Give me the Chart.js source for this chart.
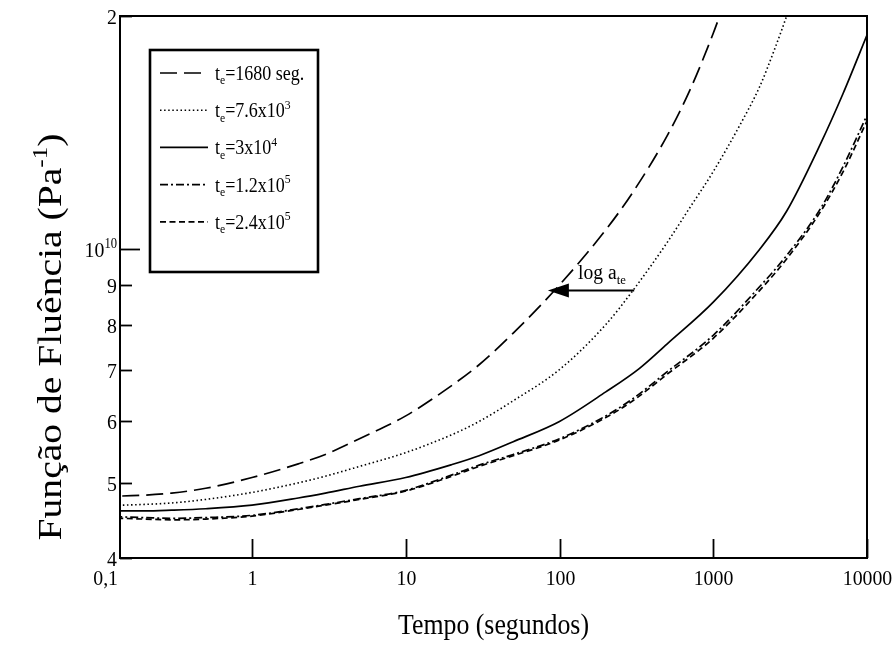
<!DOCTYPE html>
<html><head><meta charset="utf-8">
<script src="https://cdn.jsdelivr.net/npm/chart.js@4.4.0/dist/chart.umd.min.js"></script>
<style>html,body{margin:0;padding:0;background:#fff;}</style>
</head><body>
<canvas id="c" width="893" height="655"></canvas>
<script>
// ---- data (time in s, compliance in Pa^-1) ----
const timeA = [0.1, 0.2, 0.3, 0.5, 1, 2, 3, 5, 10, 20, 30, 50, 100, 200, 300, 500, 700, 1000, 1200];
const compA = [4.80e9, 4.82e9, 4.85e9, 4.92e9, 5.08e9, 5.29e9, 5.44e9, 5.70e9, 6.10e9, 6.68e9, 7.10e9, 7.80e9, 9.00e9, 10.6e9, 11.85e9, 14.0e9, 16.0e9, 19.0e9, 21.0e9];

const timeB = [0.1, 0.2, 0.3, 0.5, 1, 2, 3, 5, 10, 20, 30, 50, 100, 200, 300, 500, 700, 1000, 1500, 2000, 2500, 3000, 3500];
const compB = [4.67e9, 4.69e9, 4.71e9, 4.76e9, 4.86e9, 5.00e9, 5.10e9, 5.25e9, 5.47e9, 5.77e9, 6.00e9, 6.38e9, 7.00e9, 8.00e9, 8.85e9, 10.2e9, 11.3e9, 12.6e9, 14.5e9, 16.2e9, 18.1e9, 20.0e9, 22.0e9];

const timeC = [0.1, 0.2, 0.3, 0.5, 1, 2, 3, 5, 10, 20, 30, 50, 100, 200, 330, 500, 1000, 2000, 3000, 5000, 7000, 10000];
const compC = [4.60e9, 4.60e9, 4.61e9, 4.63e9, 4.68e9, 4.78e9, 4.85e9, 4.95e9, 5.08e9, 5.28e9, 5.42e9, 5.65e9, 6.00e9, 6.55e9, 7.02e9, 7.55e9, 8.55e9, 10.0e9, 11.2e9, 13.7e9, 15.9e9, 18.9e9];

const timeD = [0.1, 0.2, 0.3, 0.5, 1, 2, 3, 5, 10, 20, 30, 50, 100, 200, 300, 500, 1000, 2000, 3000, 5000, 7000, 10000];
const compD = [4.53e9, 4.51e9, 4.50e9, 4.51e9, 4.54e9, 4.63e9, 4.69e9, 4.77e9, 4.89e9, 5.12e9, 5.27e9, 5.44e9, 5.70e9, 6.10e9, 6.42e9, 6.95e9, 7.75e9, 8.95e9, 9.82e9, 11.3e9, 12.8e9, 14.9e9];

const timeE = [0.1, 0.2, 0.3, 0.5, 1, 2, 3, 5, 10, 20, 30, 50, 100, 200, 300, 500, 1000, 2000, 3000, 5000, 7000, 10000];
const compE = [4.51e9, 4.49e9, 4.48e9, 4.49e9, 4.53e9, 4.62e9, 4.68e9, 4.76e9, 4.88e9, 5.10e9, 5.25e9, 5.42e9, 5.68e9, 6.07e9, 6.38e9, 6.90e9, 7.68e9, 8.85e9, 9.72e9, 11.2e9, 12.6e9, 14.65e9];

// legend labels: pieces [text, mode]  mode 0 normal, -1 subscript, 1 superscript
const seriesLabels = [
  [['t',0],['e',-1],['=1680 seg.',0]],
  [['t',0],['e',-1],['=7.6x10',0],['3',1]],
  [['t',0],['e',-1],['=3x10',0],['4',1]],
  [['t',0],['e',-1],['=1.2x10',0],['5',1]],
  [['t',0],['e',-1],['=2.4x10',0],['5',1]]
];

const xMin = 0.1385, xMax = 10000;
const yMin = 4e9, yMax = 2e10;
const xTickValues = [0.1, 1, 10, 100, 1000, 10000];
const xTickLabels = ['0,1', '1', '10', '100', '1000', '10000'];
const yTickValues = [4e9, 5e9, 6e9, 7e9, 8e9, 9e9, 1e10, 2e10];
const yTickLabels = ['4', '5', '6', '7', '8', '9', '10^10', '2'];

// shift annotation (log a_te)
const arrowLevel = 8.85e9;
const arrowFrom = 306;
const arrowTo = 84;
const arrowTextX = 132;
const arrowTextY = 9.15e9;

const xTitle = [['Tempo (segundos)',0]];
const yTitle = [['Função de Fluência (Pa',0],['-1',1],[')',0]];

const FONT = "'Liberation Serif', 'Times New Roman', serif";
Chart.defaults.font.family = FONT;
Chart.defaults.color = '#000';

function pts(xs, ys){ return xs.map((x,i)=>({x:x, y:ys[i]})); }

const styles = [
  {dash:[17,7], w:1.7},
  {dash:[1.5,2.6], w:1.6},
  {dash:[], w:1.7},
  {dash:[8,3,2,3], w:1.7},
  {dash:[6,3.5], w:1.7}
];
const allData = [[timeA,compA],[timeB,compB],[timeC,compC],[timeD,compD],[timeE,compE]];

const datasets = allData.map((d,i)=>({
  data: pts(d[0], d[1]),
  borderColor:'#000',
  borderWidth: styles[i].w,
  borderDash: styles[i].dash,
  pointRadius:0,
  fill:false,
  cubicInterpolationMode:'monotone'
}));

function pieceSize(m, size){ return m===0 ? size : Math.round(size*0.63); }
function richWidth(ctx, pieces, size, sx){
  let w=0;
  for(const [t,m] of pieces){
    ctx.font = pieceSize(m,size) + 'px ' + FONT;
    w += ctx.measureText(t).width;
  }
  return w*(sx||1);
}
// draws text starting at (x,y) baseline, horizontally scaled by sx
function drawRich(ctx, pieces, x, y, size, sx){
  sx = sx||1;
  ctx.save();
  ctx.translate(x,y);
  ctx.scale(sx,1);
  ctx.textAlign='left'; ctx.textBaseline='alphabetic';
  let cx = 0;
  for(const [t,m] of pieces){
    ctx.font = pieceSize(m,size) + 'px ' + FONT;
    const dy = m===0? 0 : (m<0 ? size*0.22 : -size*0.42);
    ctx.fillText(t, cx, dy);
    cx += ctx.measureText(t).width;
  }
  ctx.restore();
}
function parsePow(lbl){
  const p = lbl.split('^');
  return p.length>1 ? [[p[0],0],[p[1],1]] : [[lbl,0]];
}

const overlay = {
  id:'overlay',
  afterDraw(chart){
    const ctx = chart.ctx;
    const {left,right,top,bottom} = chart.chartArea;
    const xs = chart.scales.x, ys = chart.scales.y;
    ctx.save();
    ctx.strokeStyle='#000'; ctx.fillStyle='#000';
    ctx.setLineDash([]);
    // frame
    ctx.lineWidth = 2;
    ctx.strokeRect(left, top, right-left, bottom-top);
    // inward x ticks + labels
    const TS = 22, TSX = 0.9;
    xTickValues.forEach((v,i)=>{
      const lbl = [[xTickLabels[i],0]];
      const w = richWidth(ctx, lbl, TS, TSX);
      if(v < xMin){
        // corner label
        drawRich(ctx, lbl, left-2-w, bottom+27, TS, TSX);
        return;
      }
      const px = Math.round(xs.getPixelForValue(v))+0.5;
      ctx.lineWidth = 1.8;
      ctx.beginPath(); ctx.moveTo(px,bottom); ctx.lineTo(px,bottom-19); ctx.stroke();
      drawRich(ctx, lbl, px-w/2, bottom+27, TS, TSX);
    });
    // inward y ticks + labels
    yTickValues.forEach((v,i)=>{
      const py = Math.round(ys.getPixelForValue(v))+0.5;
      const len = v===1e10 ? 20 : 12;
      ctx.lineWidth = 1.8;
      ctx.beginPath(); ctx.moveTo(left,py); ctx.lineTo(left+len,py); ctx.stroke();
      const pieces = parsePow(yTickLabels[i]);
      const w = richWidth(ctx, pieces, TS, TSX);
      drawRich(ctx, pieces, left-3-w, py+7.5, TS, TSX);
    });
    // arrow (shift factor)
    const ay = ys.getPixelForValue(arrowLevel);
    const ax0 = xs.getPixelForValue(arrowFrom);
    const ax1 = xs.getPixelForValue(arrowTo);
    ctx.lineWidth = 2;
    ctx.beginPath(); ctx.moveTo(ax0, ay); ctx.lineTo(ax1+16, ay); ctx.stroke();
    ctx.beginPath(); ctx.moveTo(ax1, ay); ctx.lineTo(ax1+21, ay-7); ctx.lineTo(ax1+21, ay+7); ctx.closePath(); ctx.fill();
    drawRich(ctx, [['log a',0],['te',-1]], xs.getPixelForValue(arrowTextX), ys.getPixelForValue(arrowTextY), 20, 0.98);
    // legend box
    const lx=150, ly=50, lw=168, lh=222;
    ctx.fillStyle='#fff'; ctx.fillRect(lx,ly,lw,lh); ctx.fillStyle='#000';
    ctx.lineWidth = 2.6;
    ctx.strokeRect(lx,ly,lw,lh);
    seriesLabels.forEach((lab,i)=>{
      const cy = 73 + i*37.2;
      ctx.lineWidth = styles[i].w;
      ctx.setLineDash(styles[i].dash);
      ctx.beginPath(); ctx.moveTo(160, cy); ctx.lineTo(208, cy); ctx.stroke();
      ctx.setLineDash([]);
      drawRich(ctx, lab, 215, cy+7, 20, 0.9);
    });
    // axis titles
    const xtw = richWidth(ctx, xTitle, 30, 0.86);
    drawRich(ctx, xTitle, (left+right)/2 - xtw/2, 634, 30, 0.86);
    ctx.save();
    ctx.translate(50, 337);
    ctx.rotate(-Math.PI/2);
    const YS = 33, YSX = 1.2;
    const tw = richWidth(ctx, yTitle, YS, YSX);
    drawRich(ctx, yTitle, -tw/2, YS*0.33, YS, YSX);
    ctx.restore();
    ctx.restore();
  }
};

new Chart(document.getElementById('c'), {
  type:'line',
  data:{datasets},
  options:{
    responsive:false,
    animation:false,
    devicePixelRatio:1,
    layout:{padding:{left:0,right:26,top:16,bottom:0}},
    plugins:{legend:{display:false}, tooltip:{enabled:false}},
    scales:{
      x:{
        type:'logarithmic', min:xMin, max:xMax,
        grid:{display:false, drawTicks:false},
        border:{display:false},
        afterBuildTicks(s){ s.ticks = xTickValues.filter(v=>v>=xMin).map(v=>({value:v})); },
        afterFit(s){ s.height = 97; },
        ticks:{display:false}
      },
      y:{
        type:'logarithmic', min:yMin, max:yMax,
        grid:{display:false, drawTicks:false},
        border:{display:false},
        afterBuildTicks(s){ s.ticks = yTickValues.map(v=>({value:v})); },
        afterFit(s){ s.width = 120; },
        ticks:{display:false}
      }
    }
  },
  plugins:[overlay]
});
</script>
</body></html>
